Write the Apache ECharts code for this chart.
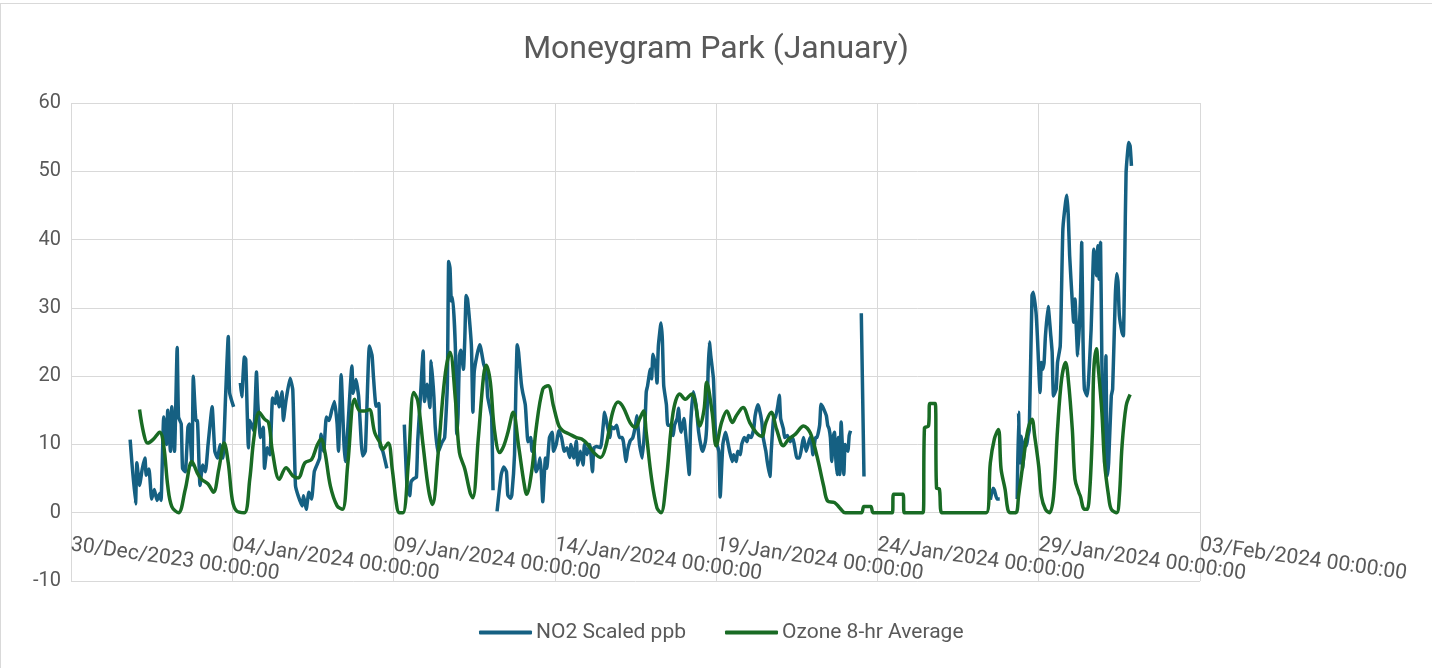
<!DOCTYPE html>
<html>
<head>
<meta charset="utf-8">
<script src="https://cdn.jsdelivr.net/npm/echarts@6/dist/echarts.min.js"></script>
<style>
body { margin: 0; background: #fff; }
#main { position: absolute; left: 0; top: 0; width: 1432px; height: 668px; }
#frame { position: absolute; left: 0; top: 3px; width: 1432px; height: 665px; border-top: 1px solid #d9d9d9; border-left: 1px solid #d9d9d9; pointer-events: none; }
</style>
</head>
<body>
<div id="main"></div>
<div id="frame"></div>
<script>
// hours since 30/Dec/2023 00:00, null = no reading
var no2Hours = [44,48,49,51,53,55,56,58,60,62,64,66,67,69,71,72,74,75,77,79,80,82,83,85,87,88,90,91,93,94,96,98,100,102,105,107,109,111,113,115,117,118,121,122,
    126,127,129,130,132,133,136,138,139,141,143,144,146,148,150,152,153,155,157,158,160,163,165,167,169,172,173,175,177,179,181,183,185,186,188,190,192,194,196,198,199,201,203,204,206,209,210,212,214,216,217,219,222,224,225,227,229,230,232,235,236,
    248,250,252,253,255,257,258,260,262,263,265,267,268,270,271,273,276,278,280,281,282,283,284,286,287,288,289,290,292,293,294,295,297,298,299,300,302,304,305,307,309,310,312,313,314,315,
    317,320,322,324,325,327,328,330,331,332,333,335,336,338,339,340,342,343,344,346,348,349,350,351,353,354,356,358,359,361,363,365,367,369,371,372,374,376,377,379,381,382,384,386,388,389,391,394,396,397,399,401,402,404,406,408,410,411,413,414,416,418,420,421,423,425,427,428,429,431,432,433,435,436,437,439,440,441,443,444,446,448,449,451,452,453,454,456,458,460,461,463,465,467,469,470,472,473,474,475,476,478,479,480,482,483,485,487,488,490,492,493,495,496,498,499,501,503,504,506,508,509,511,512,514,515,517,518,520,521,523,524,526,527,528,530,531,533,535,537,539,540,542,544,545,547,549,550,551,552,554,555,557,558,559,560,562,563,564,565,566,567,568,569,570,571,572,573,575,576,578,579,580,581,
    588,590,591,
    684,686,687,689,691,692,
    704,705,706,707,708,710,711,712,713,715,716,718,719,721,722,723,724,725,727,729,730,731,733,734,736,737,738,740,741,742,743,745,746,747,748,749,751,752,753,754,756,757,759,760,761,763,764,765,766,767,769,770,771,772,774,775,777,778,779,780,782,783,784,785,787,788,789];
var no2Values = [10.7,1.3,7.3,4,6.4,8,5.5,6.4,2,3.4,1.8,2.8,1.8,14,10,15,9,15.5,9,24.2,14,13,6.5,6,12.5,13,7,20,13.5,13.5,4,7,6,10,15.5,9,8,10,8,17,25.8,17.6,15.5,null,
    19,17,22.8,22.5,9.5,13.5,12,20.6,16,11,12.5,6.5,9.5,8.5,16.8,16,17.7,15.5,17.7,13.5,16.5,19.7,18,4,2.5,1,2.5,0.5,3,2,6,7,8,11.5,9,14,13.5,15,16.3,13,9,20.2,10.5,7.5,12.5,21.5,17.5,19.5,17,10.2,8.3,9,24.4,23,20,15.6,16,9.8,9,6.5,null,
    12.9,4,2.5,4.5,5,5.2,10.6,17,23.7,16.3,18.8,15.4,22.2,17,12.5,8.8,10.3,11,18.6,36.8,35.8,31,31.5,24,11.5,14.5,23,23.8,21,25.5,31.8,31.3,27,24,14.7,20.6,23,24.6,24,21.8,20.6,17,15,14,3.3,null,
    0.2,5.5,6.7,6,2.6,2.1,2.6,8.5,18.2,24.6,23.5,19,17.7,15.8,12.8,10.4,11,9,10.4,6,7,8,5.6,1.6,8,6.5,11,11.8,9,10,12,11,9,9.5,8.1,10,8,10.5,7,9,7,10,8.5,10,6,9.5,9.7,9.5,12.8,14.7,12.8,11,12.6,12.3,12.8,11,11,10.4,7.5,9,10.5,11,12.8,14.2,10,8,12.8,17.7,18.6,21,19.6,23.2,21.5,19,24.4,27.8,25.3,18.6,15.8,12.8,12.8,11.3,12.8,13.8,15.3,12.8,11.8,13.8,10,5.6,12.8,17.7,15.8,11.8,9.5,9,10.4,12.8,20.6,25,23,19.6,13.8,10.4,9,2.3,10,11.8,11,9,7.5,8.5,7.5,9,8.5,10,11,10.4,11.3,11,12.3,14.2,15.8,15.3,13.3,11,9,7.5,5.3,9,14.2,13.8,15.8,17.2,13.8,12.3,11,11.3,10.4,11,9,8,8,10,11,9,10.4,11,10.4,8.5,11,11,12.8,15.9,15.6,15.2,14.2,12.8,12.3,11,7.5,11,11.8,8,5.6,11,5.6,13.3,5.6,10,9,11.3,12,null,
    29.2,5.3,null,
    1.9,3.6,3.3,2,2,null,
    2,14.7,7.3,11.2,6.4,10.8,9.8,11.2,12.2,31.8,32.3,29.3,25.9,17.6,22,21,22,25.9,30.2,25.9,23.5,17.1,18.1,22,24.4,32.8,41.6,45.5,46.5,43.5,37.7,30.8,27.9,31.3,26.9,23,30.8,39.6,25,18.1,17.1,19,26.9,33.3,38.6,34.7,39.1,34.2,39.6,22,7.3,23,5.4,7.3,17.1,18.1,31.8,35,33.8,28.9,26.4,25.9,36.7,49.8,54.2,53.7,50.8];

var ozoneHours = [51,54,57,61,66,69,72,75,80,85,90,94,97,102,106,110,114,117,120,123,129,133,136,140,144,147,150,155,160,165,169,174,179,183,186,189,193,198,202,206,211,215,219,222,226,230,232,236,239,242,244,247,251,255,258,262,266,269,273,278,282,286,289,293,297,299,303,307,309,312,315,319,322,325,329,333,337,339,343,346,351,355,359,363,366,371,376,380,384,389,394,398,403,407,411,416,420,423,426,428,432,436,439,443,448,453,457,462,464,468,471,473,477,480,484,488,492,495,500,505,510,514,517,521,525,530,534,539,545,550,555,560,563,568,572,576,
    588,590,595,597,611,612,619,620,634,635,638,639,643,644,646,648,
    681,684,687,690,692,695,697,699,703,705,709,712,715,717,720,722,725,728,731,734,737,740,742,745,747,750,751,754,756,758,760,761,763,764,767,769,772,774,778,780,782,785,788];
var ozoneValues = [15.1,11.7,10.2,10.7,11.8,9.8,3.9,0.9,0,3.4,7.5,5.8,4.9,4.2,3,6.4,10.2,7.3,1.9,0.3,0,4.9,10.8,14.7,13.7,13.2,8.8,4.9,6.6,5.4,5.1,7.3,7.8,9.8,10.8,8.8,3.9,1,0.5,7.3,16.6,14.9,14.9,15.1,11.7,10.2,9.3,10.2,6.4,1.5,0,0,7.3,17.6,16.4,9.8,3.4,1.2,8.3,19.6,23.5,16.6,8.8,6.4,2.9,2.2,10.8,20.1,21.6,19.1,12.2,8.8,9.8,11.7,14.7,9.8,4.4,2.7,6.4,12.2,18.1,18.6,15.6,12.7,12,11.5,11,10.8,10.1,8.8,8.1,9.8,14.7,16.2,15.4,13.2,12.5,13.7,14.9,11.7,4.9,0.7,0,4.9,14.7,17.4,16.6,17.4,16.6,12.7,15.1,19.1,14.7,9.8,13.2,14.9,13.2,14.2,15.4,13.2,11.7,11.2,13.2,14.7,12.2,9.8,10.8,11.5,12.7,11.7,8.3,3.9,1.7,1.5,0.7,0,
    0,0.9,0.9,0,0,2.7,2.7,0,0,12.4,12.7,16,16,3.6,3.5,0,
    0,7.3,10.8,12.2,6.4,3.4,0.5,0,0,2.4,8.3,12.2,13.7,11.2,6.8,2.4,0.5,0,2.4,12.2,19.5,22,19.5,12.2,4.9,2.9,2.4,0.5,0.5,3.4,12.2,21,24,22,14.7,7.3,2.4,0.5,0,2.4,9.8,15.6,17.3];

var yTicks = [-10, 0, 10, 20, 30, 40, 50, 60];
var months = ['Jan','Feb','Mar','Apr','May','Jun','Jul','Aug','Sep','Oct','Nov','Dec'];
var startMs = Date.UTC(2023, 11, 30);

function pairs(hours, values) {
    var out = [];
    for (var i = 0; i < hours.length; i++) {
        out.push([hours[i], values[i]]);
    }
    return out;
}

function dateLabel(h) {
    var d = new Date(startMs + h * 3600000);
    var dd = d.getUTCDate();
    return (dd < 10 ? '0' + dd : dd) + '/' + months[d.getUTCMonth()] + '/' + d.getUTCFullYear() + ' 00:00:00';
}

var chart = echarts.init(document.getElementById('main'));
var option = {
    animation: false,
    textStyle: { fontFamily: 'Roboto' },
    title: {
        text: 'Moneygram Park (January)',
        left: 'center',
        top: 29,
        textStyle: { fontSize: 32, fontWeight: 'normal', color: '#595959', fontFamily: 'Roboto' }
    },
    legend: {
        left: 479,
        top: 622,
        padding: 0,
        itemWidth: 53,
        itemHeight: 4,
        itemGap: 39,
        icon: 'roundRect',
        textStyle: { fontSize: 21, color: '#595959', padding: [0, 0, 0, -1] },
        data: ['NO2 Scaled ppb', 'Ozone 8-hr Average']
    },
    grid: { left: 71, right: 232, top: 103, bottom: 87 },
    xAxis: {
        type: 'value',
        min: 0,
        max: 840,
        interval: 120,
        axisLine: { show: false },
        axisTick: { show: false },
        splitLine: { show: true, lineStyle: { color: '#d9d9d9', width: 1 } },
        axisLabel: {
            rotate: -8,
            margin: -36,   // labels sit under the 0 line, like the source
            fontSize: 21,
            color: '#595959',
            showMinLabel: true,
            showMaxLabel: true,
            hideOverlap: false,
            formatter: dateLabel
        }
    },
    yAxis: {
        type: 'value',
        min: yTicks[0],
        max: yTicks[yTicks.length - 1],
        interval: 10,
        axisLine: { show: false },
        axisTick: { show: false },
        splitLine: { lineStyle: { color: '#d9d9d9', width: 1 } },
        axisLabel: { fontSize: 20, color: '#595959', margin: 10 }
    },
    series: [
        {
            name: 'NO2 Scaled ppb',
            type: 'line',
            symbol: 'none',
            connectNulls: false,
            smooth: 0.15,
            color: '#156082',
            lineStyle: { width: 3.5, color: '#156082' },
            data: pairs(no2Hours, no2Values)
        },
        {
            name: 'Ozone 8-hr Average',
            type: 'line',
            symbol: 'none',
            smooth: 0.35,
            color: '#196B24',
            lineStyle: { width: 3.5, color: '#196B24' },
            data: pairs(ozoneHours, ozoneValues)
        }
    ]
};
chart.setOption(option);
</script>
</body>
</html>
